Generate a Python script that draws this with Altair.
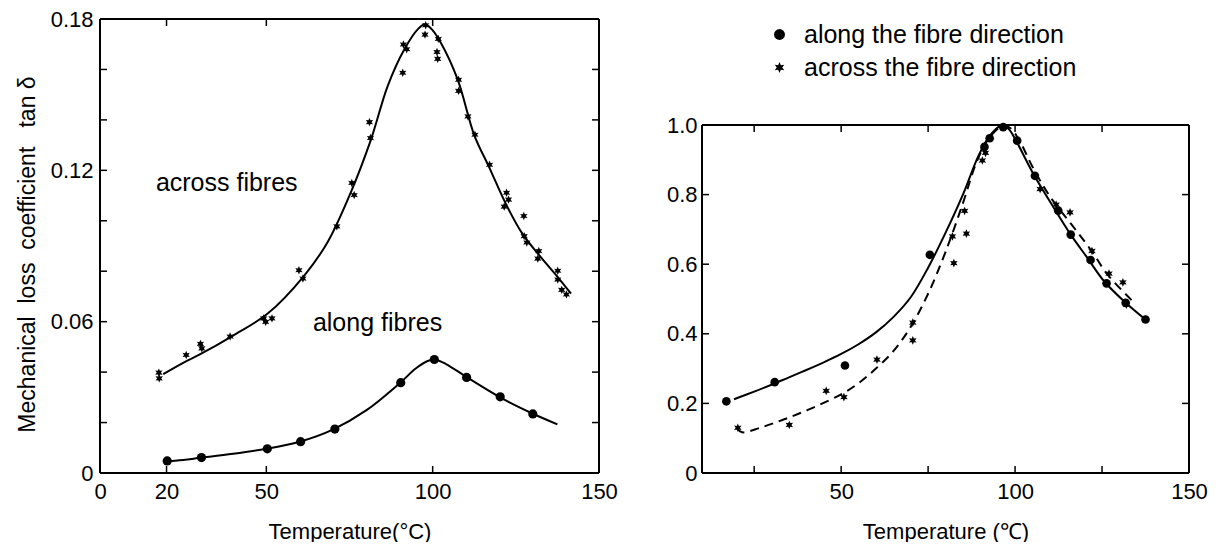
import altair as alt
import pandas as pd

FONT = "Liberation Sans"
NB = "\u00a0"
STAR = ("M0,-1L0.25,-0.43L0.866,-0.5L0.5,0L0.866,0.5L0.25,0.43L0,1"
        "L-0.25,0.43L-0.866,0.5L-0.5,0L-0.866,-0.5L-0.25,-0.43Z")

# ---------------- left panel data ----------------
L_X_DOMAIN = [0, 150]
L_Y_DOMAIN = [0, 0.18]
L_X_LABELS = [0, 20, 50, 100, 150]
L_X_TICKS = [20, 50, 100]
L_Y_LABELS = [0, 0.06, 0.12, 0.18]
L_Y_TICKS = [0.02, 0.04, 0.06, 0.08, 0.10, 0.12, 0.14, 0.16]

left_along_T = [20.2, 30.5, 50.3, 60.3, 70.6, 90.4, 100.5, 110.2, 120.3, 130.1]
left_along_v = [0.0048, 0.0061, 0.0096, 0.0124, 0.0174, 0.0358, 0.0450, 0.0379, 0.0302, 0.0234]

left_across_T = [17.7, 17.8, 25.9, 30.2, 30.6, 39.1, 49.2, 51.7, 49.8, 59.8, 61.0, 71.2,
                 76.4, 75.7, 81.3, 81.0, 91.0, 91.2, 92.2, 97.7, 97.9, 101.7, 101.3, 101.5,
                 107.8, 107.8, 110.6, 112.7, 117.1, 122.2, 122.8, 121.5, 127.4, 127.5,
                 128.3, 131.9, 131.6, 137.6, 137.6, 138.8, 140.2]
left_across_v = [0.0398, 0.0375, 0.0468, 0.0512, 0.0494, 0.0541, 0.0613, 0.0613, 0.0599,
                 0.0804, 0.0771, 0.0978, 0.1102, 0.1150, 0.1328, 0.1391, 0.1587, 0.1699,
                 0.1680, 0.1738, 0.1775, 0.1721, 0.1669, 0.1642, 0.1559, 0.1515, 0.1414,
                 0.1341, 0.1222, 0.1111, 0.1084, 0.1056, 0.1019, 0.0939, 0.0914, 0.0880,
                 0.0850, 0.0802, 0.0767, 0.0726, 0.0708]

left_along_curve_T = [19, 25, 30, 40, 50, 60, 70, 80, 90, 95, 98.5, 101, 104, 110, 120, 130, 137.5]
left_along_curve_v = [0.0045, 0.0052, 0.0060, 0.0076, 0.0096, 0.0124, 0.0172, 0.0248, 0.0355,
                      0.0415, 0.0444, 0.0448, 0.0432, 0.0382, 0.0302, 0.0236, 0.0193]

left_across_curve_T = [19, 25, 30, 40, 50.4, 61.4, 68.4, 75.4, 81.5, 86.5, 91.5, 95.5, 97.7,
                       100, 102.5, 107.5, 112.5, 117, 122, 127, 132.5, 137.6, 141.6]
left_across_curve_v = [0.0392, 0.0437, 0.0470, 0.0545, 0.0632, 0.0783, 0.0915, 0.1113, 0.1324,
                       0.1535, 0.1680, 0.1759, 0.1779, 0.1755, 0.1705, 0.1561, 0.1340, 0.1212,
                       0.1067, 0.0948, 0.0856, 0.0777, 0.0711]

left_note_text = ["across fibres", "along fibres"]
left_note_T = [16.8, 64.0]
left_note_v = [0.112, 0.0562]

# ---------------- right panel data ----------------
R_X_DOMAIN = [10, 150]
R_Y_DOMAIN = [0, 1.3046]
R_Y_FRAME = [0, 1.0]
R_X_LABELS = [50, 100, 150]
R_X_TICKS = [25, 50, 75, 100, 125]
R_Y_LABELS = [0, 0.2, 0.4, 0.6, 0.8, 1.0]
R_Y_TICKS = [0.2, 0.4, 0.6, 0.8]
SERIES = ["along the fibre direction", "across the fibre direction"]

right_along_T = [17.0, 30.9, 51.1, 75.5, 91.2, 92.7, 96.6, 100.6, 105.7, 112.4, 116.0,
                 121.7, 126.3, 131.8, 137.5]
right_along_v = [0.206, 0.261, 0.309, 0.627, 0.937, 0.962, 0.994, 0.955, 0.854, 0.754, 0.685,
                 0.612, 0.545, 0.489, 0.441]

right_across_T = [20.3, 35.1, 45.7, 50.8, 60.3, 70.6, 70.6, 82.0, 82.4, 85.5, 86.0, 90.6,
                  91.5, 107.2, 111.8, 115.8, 122.1, 127.0, 131.0, 132.0]
right_across_v = [0.130, 0.138, 0.236, 0.218, 0.326, 0.432, 0.381, 0.680, 0.603, 0.753,
                  0.688, 0.898, 0.920, 0.816, 0.771, 0.749, 0.638, 0.573, 0.548, 0.484]

right_along_curve_T = [19.2, 25, 30.3, 35, 40, 45, 50, 55, 60, 65, 70, 75, 80, 85, 89.5,
                       92.5, 95.8, 98, 100.1, 105.4, 111.2, 116, 120.8, 125.6, 131.4, 137.5]
right_along_curve_v = [0.212, 0.234, 0.255, 0.275, 0.296, 0.318, 0.342, 0.370, 0.404, 0.448,
                       0.505, 0.590, 0.690, 0.800, 0.912, 0.966, 0.997, 0.990, 0.958, 0.857,
                       0.761, 0.685, 0.618, 0.551, 0.493, 0.441]

right_across_curve_T = [20, 21.5, 27, 34.1, 42, 50, 55, 60, 65, 70, 75, 80, 85, 89,
                        92.5, 96.5, 98.5, 101, 105, 110, 117, 122, 126.6, 134.3]
right_across_curve_v = [0.128, 0.117, 0.131, 0.156, 0.188, 0.226, 0.258, 0.300, 0.350, 0.420,
                        0.515, 0.635, 0.775, 0.895, 0.962, 0.998, 0.992, 0.960, 0.880, 0.795,
                        0.704, 0.638, 0.570, 0.489]

# ---------------- helpers ----------------
BLACK = "black"


def label_axis(values, title, label_expr=None, **kw):
    args = dict(values=values, ticks=False, domain=False, grid=False,
                labelFlush=False, labelOverlap=False, labelFont=FONT, labelFontSize=22,
                labelColor=BLACK, titleFont=FONT, titleFontSize=22,
                titleFontWeight="normal", titleColor=BLACK)
    args["title"] = title if title is not None else ""
    if label_expr:
        args["labelExpr"] = label_expr
    args.update(kw)
    return alt.Axis(**args)


def frame_and_ticks(xs, ys, xa, ya, x_dom, y_frame, x_ticks, y_ticks):
    layers = []
    layers.append(alt.Chart(pd.DataFrame({"T": x_dom})).mark_rule(color=BLACK, strokeWidth=2).encode(
        x=alt.X("T:Q", scale=xs, axis=xa),
        y=alt.YDatum(y_frame[0], scale=ys, axis=ya),
        y2=alt.Y2Datum(y_frame[1])))
    layers.append(alt.Chart(pd.DataFrame({"v": y_frame})).mark_rule(color=BLACK, strokeWidth=2).encode(
        y=alt.Y("v:Q", scale=ys, axis=ya),
        x=alt.XDatum(x_dom[0], scale=xs, axis=xa),
        x2=alt.X2Datum(x_dom[1])))
    ydf = pd.DataFrame({"v": y_ticks})
    xdf = pd.DataFrame({"T": x_ticks})
    for xv, off in [(x_dom[0], 7), (x_dom[1], -7)]:
        layers.append(alt.Chart(ydf).mark_rule(color=BLACK, strokeWidth=1.5, x2Offset=off).encode(
            y=alt.Y("v:Q", scale=ys, axis=ya),
            x=alt.XDatum(xv, scale=xs, axis=xa),
            x2=alt.X2Datum(xv)))
    for yv, off in [(y_frame[0], -7), (y_frame[1], 7)]:
        layers.append(alt.Chart(xdf).mark_rule(color=BLACK, strokeWidth=1.5, y2Offset=off).encode(
            x=alt.X("T:Q", scale=xs, axis=xa),
            y=alt.YDatum(yv, scale=ys, axis=ya),
            y2=alt.Y2Datum(yv)))
    return layers


def xy(xs, ys, xa, ya):
    return dict(x=alt.X("T:Q", scale=xs, axis=xa), y=alt.Y("v:Q", scale=ys, axis=ya))


# ---------------- left panel ----------------
lxs = alt.Scale(domain=L_X_DOMAIN, nice=False, zero=False)
lys = alt.Scale(domain=L_Y_DOMAIN, nice=False)
lxa = label_axis(L_X_LABELS, "Temperature(°C)", labelPadding=8, titlePadding=19)
lya = label_axis(L_Y_LABELS,
                 "Mechanical" + NB + " loss" + NB + " coefficient" + NB * 2 + " tan δ",
                 "datum.value == 0 ? '0' : format(datum.value, '.2f')",
                 labelPadding=7, titlePadding=11, titleFontSize=23,
                 titleX=-61, titleY=235)

left_along_line = alt.Chart(pd.DataFrame({"T": left_along_curve_T, "v": left_along_curve_v})).mark_line(
    color=BLACK, strokeWidth=2, interpolate="catmull-rom").encode(**xy(lxs, lys, lxa, lya))

left_across_line = alt.Chart(pd.DataFrame({"T": left_across_curve_T, "v": left_across_curve_v})).mark_line(
    color=BLACK, strokeWidth=2, interpolate="catmull-rom").encode(**xy(lxs, lys, lxa, lya))

left_dots = alt.Chart(pd.DataFrame({"T": left_along_T, "v": left_along_v})).mark_point(
    shape="circle", filled=True, color=BLACK, opacity=1, size=85).encode(**xy(lxs, lys, lxa, lya))

left_stars = alt.Chart(pd.DataFrame({"T": left_across_T, "v": left_across_v})).mark_point(
    shape=STAR, filled=True, color=BLACK, opacity=1, size=70).encode(**xy(lxs, lys, lxa, lya))

left_notes = alt.Chart(pd.DataFrame({"T": left_note_T, "v": left_note_v, "label": left_note_text})).mark_text(
    align="left", baseline="alphabetic", font=FONT, fontSize=25, color=BLACK).encode(
    text="label:N", **xy(lxs, lys, lxa, lya))

left = alt.layer(
    left_along_line, left_across_line, left_dots, left_stars, left_notes,
    *frame_and_ticks(lxs, lys, lxa, lya, L_X_DOMAIN, L_Y_DOMAIN, L_X_TICKS, L_Y_TICKS)
).properties(width=499, height=454)

# ---------------- right panel ----------------
rxs = alt.Scale(domain=R_X_DOMAIN, nice=False, zero=False)
rys = alt.Scale(domain=R_Y_DOMAIN, nice=False)
rxa = label_axis(R_X_LABELS, "Temperature (℃)", labelPadding=8, titlePadding=19)
rya = label_axis(R_Y_LABELS, None, "datum.value == 0 ? '0' : format(datum.value, '.1f')",
                 labelPadding=5)

right_line = alt.Chart(pd.DataFrame({"T": right_along_curve_T, "v": right_along_curve_v})).mark_line(
    color=BLACK, strokeWidth=2, interpolate="catmull-rom").encode(**xy(rxs, rys, rxa, rya))

right_dash = alt.Chart(pd.DataFrame({"T": right_across_curve_T, "v": right_across_curve_v})).mark_line(
    color=BLACK, strokeWidth=2, strokeDash=[9, 6], interpolate="catmull-rom").encode(
    **xy(rxs, rys, rxa, rya))

right_pts_df = pd.concat([
    pd.DataFrame({"T": right_along_T, "v": right_along_v, "series": SERIES[0]}),
    pd.DataFrame({"T": right_across_T, "v": right_across_v, "series": SERIES[1]}),
])

right_pts = alt.Chart(right_pts_df).mark_point(filled=True, color=BLACK, opacity=1, size=75).encode(
    shape=alt.Shape("series:N", scale=alt.Scale(domain=SERIES, range=["circle", STAR]),
                    legend=alt.Legend(title=None, orient="none", legendX=65, legendY=3,
                                      labelFont=FONT, labelFontSize=25, labelColor=BLACK,
                                      labelLimit=0, symbolSize=120, symbolFillColor=BLACK,
                                      symbolStrokeColor=BLACK, symbolStrokeWidth=0,
                                      rowPadding=7, labelOffset=12)),
    **xy(rxs, rys, rxa, rya))

right = alt.layer(
    right_line, right_dash, right_pts,
    *frame_and_ticks(rxs, rys, rxa, rya, R_X_DOMAIN, R_Y_FRAME, R_X_TICKS, R_Y_TICKS)
).properties(width=487, height=454)

chart = alt.hconcat(left, right, spacing=103, bounds="flush").resolve_scale(
    x="independent", y="independent", shape="independent"
).properties(
    padding={"left": 7, "top": 0, "right": 0, "bottom": 0},
    background="white",
).configure_view(stroke=None)

chart.save("out.html", embed_options={"renderer": "svg", "actions": False})
